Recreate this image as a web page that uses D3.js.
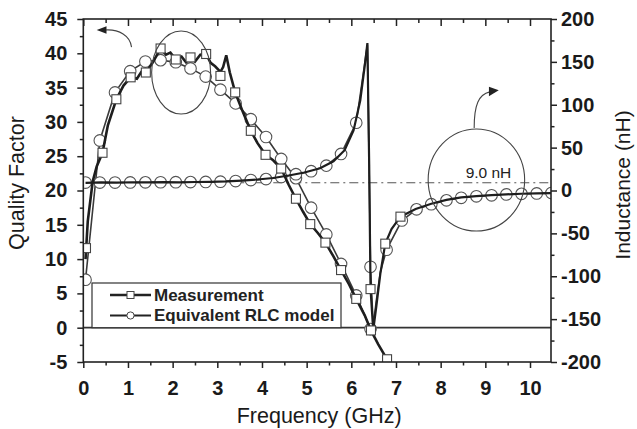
<!DOCTYPE html>
<html><head><meta charset="utf-8">
<script src="https://cdn.jsdelivr.net/npm/d3@7"></script>
<style>
html,body{margin:0;padding:0;background:#fff;}
svg{display:block;font-family:"Liberation Sans",Arial,sans-serif;}
</style></head>
<body><svg id="c" width="637" height="429"></svg>
<script>
// ---------- data ----------
const xTicks = [0,1,2,3,4,5,6,7,8,9,10];
const qTicks = [-5,0,5,10,15,20,25,30,35,40,45];
const lTicks = [-200,-150,-100,-50,0,50,100,150,200];

// Quality factor – measurement (solid line)
const qMeasF = [0.05,0.10,0.21,0.30,0.43,0.55,0.74,0.90,1.06,1.20,1.30,1.40,1.55,1.73,1.85,1.95,2.07,2.20,2.30,2.40,2.50,2.62,2.75,2.85,2.95,3.07,3.13,3.20,3.28,3.40,3.55,3.75,3.90,4.08,4.25,4.43,4.60,4.76,4.92,5.08,5.25,5.42,5.60,5.77,5.95,6.11,6.30,6.44,6.60,6.80,6.86];
const qMeasV = [10.0,15.5,21.3,23.5,25.5,29.5,33.3,35.3,36.5,36.3,37.3,37.2,38.6,40.7,39.8,40.1,39.1,39.5,38.7,39.4,38.8,39.8,39.9,38.6,38.1,37.3,38.0,39.7,37.2,34.3,31.8,28.7,26.9,25.2,24.4,23.2,20.8,18.8,16.9,15.1,13.8,12.4,10.4,8.4,6.3,4.2,1.8,-0.4,-2.4,-4.6,-5.4];
// Quality factor – measurement markers
const qMeasMarkF = [0.06,0.43,0.74,1.06,1.40,1.73,2.07,2.40,2.75,3.07,3.40,3.75,4.08,4.43,4.76,5.08,5.42,5.77,6.11,6.44,6.80];
const qMeasMarkV = [11.6,25.5,33.3,36.5,37.2,40.7,39.1,39.4,39.9,36.7,34.3,28.7,25.2,23.2,18.8,15.1,12.4,8.4,4.2,-0.4,-4.6];
// Quality factor – equivalent RLC model
const qModelF = [0.05,0.37,0.71,1.05,1.39,1.73,2.07,2.40,2.74,3.07,3.41,3.75,4.09,4.43,4.76,5.10,5.44,5.77,6.11,6.43];
const qModelV = [7.0,27.3,34.3,37.4,38.8,39.0,38.7,37.8,36.6,34.7,32.7,30.4,27.8,24.6,21.8,17.5,13.6,9.3,4.7,-0.2];

// Inductance – equivalent RLC model (line)
const lModelF = [0.05,0.37,0.71,1.05,1.39,1.73,2.07,2.40,2.74,3.07,3.41,3.75,4.09,4.43,4.76,5.10,5.44,5.77,6.11,6.36,6.43,6.49,6.56,6.65,6.79,7.13,7.46,7.79,8.13,8.46,8.80,9.14,9.47,9.81,10.15,10.48];
const lModelV = [9.3,9.3,9.3,9.4,9.5,9.6,9.7,9.8,10.0,10.3,11.0,12.2,13.3,15.8,19.0,22.5,29.0,42.6,79.0,170,-89,-158,-128,-95,-69,-35,-22,-16,-11.5,-8.5,-6.8,-5.6,-4.6,-3.9,-3.4,-3.0];
// Inductance – model markers
const lModelMarkF = [0.05,0.37,0.71,1.05,1.39,1.73,2.07,2.40,2.74,3.07,3.41,3.75,4.09,4.43,4.76,5.10,5.44,5.77,6.11,6.43,6.79,7.13,7.46,7.79,8.13,8.46,8.80,9.14,9.47,9.81,10.15,10.48];
const lModelMarkV = [9.3,9.3,9.3,9.4,9.5,9.6,9.7,9.8,10.0,10.3,11.0,12.2,13.3,15.8,19.0,22.5,29.0,42.6,79.0,-89,-69,-35,-22,-16,-11.5,-8.5,-6.8,-5.6,-4.6,-3.9,-3.4,-3.0];
// Inductance – measurement
const lMeasF = [0.05,0.40,0.75,1.10,1.45,1.80,2.15,2.50,2.85,3.20,3.55,3.90,4.25,4.60,4.95,5.30,5.60,5.85,6.05,6.20,6.30,6.36,6.40,6.43,6.49,6.56,6.65,6.76,6.90,7.10,7.44,7.79,8.13,8.46,8.80,9.14,9.47,9.81,10.15,10.48];
const lMeasV = [9.0,9.5,9.2,9.6,9.4,9.8,9.5,9.9,10.1,10.6,11.6,12.8,14.6,17.5,21.0,26.0,34.0,47.0,70.0,105,145,172,30,-115,-163,-135,-97,-62,-45,-30.5,-21.5,-15.5,-11.0,-8.0,-6.5,-5.4,-4.5,-3.8,-3.3,-3.0];
const lMeasMarkF = [6.43,6.76,7.10];
const lMeasMarkV = [-115,-62,-30.5];

const refL = 9.0;
const legendLabels = ["Measurement","Equivalent RLC model"];

// ---------- layout ----------
const L = 83.3, R = 551, T = 19, B = 362;
const svg = d3.select("#c");
const x = d3.scaleLinear().domain([0,10.47]).range([L,R]);
const yQ = d3.scaleLinear().domain([-5,45]).range([B,T]);
const yL = d3.scaleLinear().domain([-200,200]).range([B,T]);

svg.append("defs").append("clipPath").attr("id","clip")
  .append("rect").attr("x",L).attr("y",T).attr("width",R-L).attr("height",B-T);
const plot = svg.append("g").attr("clip-path","url(#clip)");

// zero line (Q = 0)
plot.append("line").attr("x1",L).attr("x2",R).attr("y1",yQ(0)).attr("y2",yQ(0))
  .attr("stroke","#333").attr("stroke-width",1.8);
// 9.0 nH dash-dot
plot.append("line").attr("x1",L).attr("x2",R).attr("y1",yL(refL)).attr("y2",yL(refL))
  .attr("stroke","#555").attr("stroke-width",1.1).attr("stroke-dasharray","9,4,2,4");

const zip = (a,b)=>a.map((v,i)=>[v,b[i]]);
const lineQ = d3.line().x(d=>x(d[0])).y(d=>yQ(d[1]));
const lineL = d3.line().x(d=>x(d[0])).y(d=>yL(d[1]));

// model lines
plot.append("path").attr("d",lineQ(zip(qModelF,qModelV))).attr("fill","none").attr("stroke","#3a3a3a").attr("stroke-width",1.6);
plot.append("path").attr("d",lineL(zip(lModelF,lModelV))).attr("fill","none").attr("stroke","#3a3a3a").attr("stroke-width",1.6);
// model circles
const circR = 5.8;
plot.selectAll(".cq").data(zip(qModelF,qModelV)).join("circle")
  .attr("cx",d=>x(d[0])).attr("cy",d=>yQ(d[1])).attr("r",circR)
  .attr("fill","#fff").attr("stroke","#555").attr("stroke-width",1.1);
plot.selectAll(".cl").data(zip(lModelMarkF,lModelMarkV)).join("circle")
  .attr("cx",d=>x(d[0])).attr("cy",d=>yL(d[1])).attr("r",circR)
  .attr("fill","#fff").attr("stroke","#555").attr("stroke-width",1.1);
// measurement lines
plot.append("path").attr("d",lineL(zip(lMeasF,lMeasV))).attr("fill","none").attr("stroke","#1e1e1e").attr("stroke-width",2.2);
plot.append("path").attr("d",lineQ(zip(qMeasF,qMeasV))).attr("fill","none").attr("stroke","#1e1e1e").attr("stroke-width",2.6);
// measurement squares
const sq = 9;
plot.selectAll(".sq").data(zip(qMeasMarkF,qMeasMarkV)).join("rect")
  .attr("x",d=>x(d[0])-sq/2).attr("y",d=>yQ(d[1])-sq/2).attr("width",sq).attr("height",sq)
  .attr("fill","#fff").attr("stroke","#444").attr("stroke-width",1.1);
plot.selectAll(".sl").data(zip(lMeasMarkF,lMeasMarkV)).join("rect")
  .attr("x",d=>x(d[0])-sq/2).attr("y",d=>yL(d[1])-sq/2).attr("width",sq).attr("height",sq)
  .attr("fill","#fff").attr("stroke","#444").attr("stroke-width",1.1);

// ---------- annotations ----------
const ann = svg.append("g").attr("fill","none").attr("stroke","#444").attr("stroke-width",1.1);
ann.append("ellipse").attr("cx",x(2.19)).attr("cy",yQ(37.2))
  .attr("rx",x(0.66)-x(0)).attr("ry",yQ(0)-yQ(6.05));
ann.append("ellipse").attr("cx",x(8.80)).attr("cy",yL(12.2))
  .attr("rx",x(1.08)-x(0)).attr("ry",yL(0)-yL(59.5));
ann.append("path").attr("d",`M${x(1.08)},${yQ(40.9)} C${x(1.05)},${yQ(42.6)} ${x(0.8)},${yQ(43.5)} ${x(0.5)},${yQ(43.4)}`);
svg.append("path").attr("fill","#222")
  .attr("d",`M${x(0.30)},${yQ(43.4)} L${x(0.52)},${yQ(43.95)} L${x(0.52)},${yQ(42.85)} Z`);
ann.append("path").attr("d",`M${x(8.75)},${yL(73)} C${x(8.75)},${yL(100)} ${x(8.85)},${yL(112)} ${x(9.1)},${yL(115)}`);
svg.append("path").attr("fill","#222")
  .attr("d",`M${x(9.30)},${yL(117)} L${x(9.08)},${yL(121)} L${x(9.08)},${yL(110)} Z`);
svg.append("text").attr("x",x(9.07)).attr("y",yL(14.6)).attr("text-anchor","middle")
  .attr("font-size",15.5).attr("fill","#222").text(refL.toFixed(1)+" nH");

// ---------- legend ----------
const lg = svg.append("g");
lg.append("rect").attr("x",92).attr("y",283).attr("width",249).attr("height",yQ(0)-283)
  .attr("fill","#fff").attr("stroke","#333").attr("stroke-width",1.2);
const rows = [{y:295,w:2.6,mark:"sq"},{y:315.5,w:2,mark:"c"}];
rows.forEach((r,i)=>{
  lg.append("line").attr("x1",110).attr("x2",151).attr("y1",r.y).attr("y2",r.y)
    .attr("stroke","#222").attr("stroke-width",r.w);
  if(r.mark==="sq") lg.append("rect").attr("x",127).attr("y",r.y-3.5).attr("width",7).attr("height",7)
    .attr("fill","#fff").attr("stroke","#444").attr("stroke-width",1);
  else lg.append("circle").attr("cx",130.5).attr("cy",r.y).attr("r",3.6)
    .attr("fill","#fff").attr("stroke","#444").attr("stroke-width",1);
  lg.append("text").attr("x",154).attr("y",r.y+5.8).attr("font-size",17).attr("font-weight","bold")
    .attr("fill","#222").text(legendLabels[i]);
});

// ---------- frame & axes ----------
svg.append("rect").attr("x",L).attr("y",T).attr("width",R-L).attr("height",B-T)
  .attr("fill","none").attr("stroke","#222").attr("stroke-width",1.6);

function styleAxis(g){
  g.select(".domain").remove();
  g.selectAll("line").attr("stroke","#222").attr("stroke-width",1.5);
  g.selectAll("text").attr("fill","#1a1a1a").attr("font-size",20).attr("font-weight","bold")
    .attr("font-family","'Liberation Sans',Arial,sans-serif");
}
const fmt = d => String(d);
const minorX = d3.range(0.5,10.47,1);
const minorQ = d3.range(-2.5,45,5);
const minorL = d3.range(-175,200,50);

svg.append("g").attr("transform",`translate(0,${B})`)
  .call(d3.axisBottom(x).tickValues(xTicks).tickSize(6).tickSizeOuter(0).tickPadding(13).tickFormat(fmt))
  .call(styleAxis);
svg.append("g").attr("transform",`translate(0,${B})`)
  .call(d3.axisBottom(x).tickValues(minorX).tickSize(3.5).tickSizeOuter(0).tickFormat(""))
  .call(styleAxis);
svg.append("g").attr("transform",`translate(0,${T})`)
  .call(d3.axisTop(x).tickValues(xTicks).tickSize(-7).tickSizeOuter(0).tickFormat(""))
  .call(styleAxis);
svg.append("g").attr("transform",`translate(0,${T})`)
  .call(d3.axisTop(x).tickValues(minorX).tickSize(-4).tickSizeOuter(0).tickFormat(""))
  .call(styleAxis);
svg.append("g").attr("transform",`translate(${L},0)`)
  .call(d3.axisLeft(yQ).tickValues(qTicks).tickSize(6).tickSizeOuter(0).tickPadding(10).tickFormat(fmt))
  .call(styleAxis);
svg.append("g").attr("transform",`translate(${L},0)`)
  .call(d3.axisLeft(yQ).tickValues(minorQ).tickSize(3.5).tickSizeOuter(0).tickFormat(""))
  .call(styleAxis);
svg.append("g").attr("transform",`translate(${R},0)`)
  .call(d3.axisRight(yL).tickValues(lTicks).tickSize(6).tickSizeOuter(0).tickPadding(4).tickFormat(fmt))
  .call(styleAxis);
svg.append("g").attr("transform",`translate(${R},0)`)
  .call(d3.axisRight(yL).tickValues(minorL).tickSize(3.5).tickSizeOuter(0).tickFormat(""))
  .call(styleAxis);

// axis titles
svg.append("text").attr("x",(L+R)/2 + 2).attr("y",423).attr("text-anchor","middle")
  .attr("font-size",21.5).attr("fill","#1a1a1a").text("Frequency (GHz)");
svg.append("text").attr("transform","translate(24,183) rotate(-90)").attr("text-anchor","middle")
  .attr("font-size",21.5).attr("fill","#1a1a1a").text("Quality Factor");
svg.append("text").attr("transform","translate(630,185) rotate(-90)").attr("text-anchor","middle")
  .attr("font-size",21).attr("fill","#1a1a1a").text("Inductance (nH)");
</script></body></html>
